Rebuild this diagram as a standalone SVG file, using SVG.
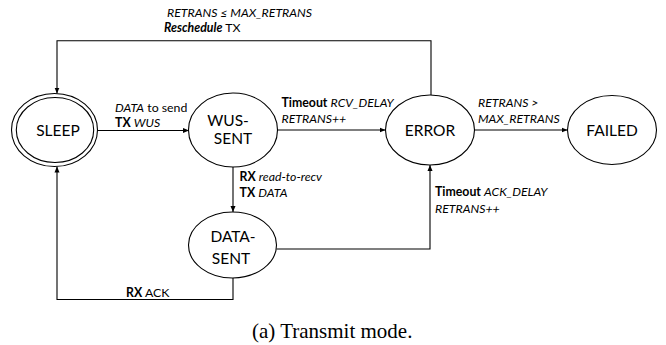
<svg xmlns="http://www.w3.org/2000/svg" width="666" height="345" viewBox="0 0 666 345">
<style>
.st{fill:#fff;stroke:#000;stroke-width:1.1}
.nt{font-family:Lato,"Liberation Sans",sans-serif;font-size:15.5px;fill:#000;text-anchor:middle}
.ln{fill:none;stroke:#000;stroke-width:1.1}
.lb{font-family:Lato,"Liberation Sans",sans-serif;font-size:12.3px;fill:#000}
.i{font-style:italic}
.b{font-weight:bold}
.cap{font-family:"Liberation Serif","Times New Roman",serif;font-size:21px;fill:#000}
</style>
<defs>
<marker id="ah" viewBox="0 0 10 10" refX="10" refY="5" markerWidth="6" markerHeight="6" markerUnits="userSpaceOnUse" orient="auto">
<path d="M0,0.8 L10,5 L0,9.2 z" fill="#000"/>
</marker>
</defs>
<rect width="666" height="345" fill="#fff"/>
<g id="connectors">
<path class="ln" d="M97.5,130.5 H189" marker-end="url(#ah)"/>
<path class="ln" d="M277,130 H385.5" marker-end="url(#ah)"/>
<path class="ln" d="M474.5,130 H567.5" marker-end="url(#ah)"/>
<path class="ln" d="M431,95 V40.7 H57 V93.5" marker-end="url(#ah)"/>
<path class="ln" d="M233,167 V212" marker-end="url(#ah)"/>
<path class="ln" d="M276.5,249 H430 V165" marker-end="url(#ah)"/>
<path class="ln" d="M233,278 V299.5 H57 V166.5" marker-end="url(#ah)"/>
</g>
<g id="labels">
<text class="lb i" x="167" y="17">RETRANS ≤ MAX_RETRANS</text>
<text class="lb" x="164" y="32"><tspan class="b i">Reschedule</tspan> TX</text>
<text class="lb" x="115" y="111.5"><tspan class="i">DATA</tspan> to send</text>
<text class="lb" x="115" y="127"><tspan class="b">TX</tspan> <tspan class="i">WUS</tspan></text>
<text class="lb" x="281.5" y="107"><tspan class="b">Timeout</tspan> <tspan class="i">RCV_DELAY</tspan></text>
<text class="lb i" x="281.5" y="123">RETRANS++</text>
<text class="lb i" x="478" y="107.3">RETRANS &gt;</text>
<text class="lb i" x="478" y="123.3">MAX_RETRANS</text>
<text class="lb" x="239.5" y="180.7"><tspan class="b">RX</tspan> <tspan class="i">read-to-recv</tspan></text>
<text class="lb" x="239.5" y="196.7"><tspan class="b">TX</tspan> <tspan class="i">DATA</tspan></text>
<text class="lb" x="126" y="296.7"><tspan class="b">RX</tspan> ACK</text>
<text class="lb" x="435" y="196"><tspan class="b">Timeout</tspan> <tspan class="i">ACK_DELAY</tspan></text>
<text class="lb i" x="435" y="212.7">RETRANS++</text>
</g>
<g id="sleep">
<ellipse class="st" cx="54.5" cy="130" rx="43" ry="36.5"/>
<ellipse class="st" cx="55" cy="130" rx="38.7" ry="32.5"/>
<text class="nt" x="58" y="136">SLEEP</text>
</g>
<g id="wus-sent">
<ellipse class="st" cx="233" cy="130" rx="44.5" ry="37"/>
<text class="nt" x="228" y="125.5">WUS-</text>
<text class="nt" x="233" y="144">SENT</text>
</g>
<g id="error">
<ellipse class="st" cx="430" cy="130" rx="44.5" ry="35"/>
<text class="nt" x="430" y="136">ERROR</text>
</g>
<g id="failed">
<ellipse class="st" cx="612" cy="130" rx="44.5" ry="34.5"/>
<text class="nt" x="612" y="136">FAILED</text>
</g>
<g id="data-sent">
<ellipse class="st" cx="232.5" cy="245" rx="44" ry="33"/>
<text class="nt" x="233" y="241.5">DATA-</text>
<text class="nt" x="231" y="263.5">SENT</text>
</g>
<text class="cap" x="252" y="338">(a) Transmit mode.</text>
</svg>
